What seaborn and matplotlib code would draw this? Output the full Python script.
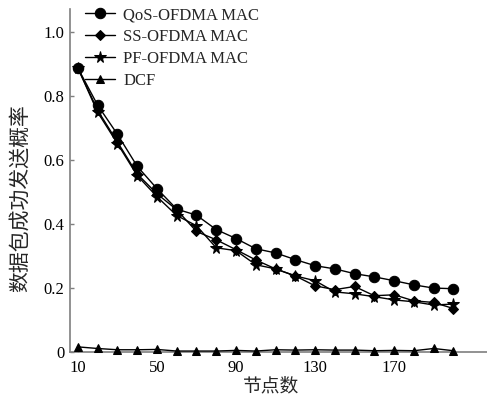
import matplotlib
matplotlib.use("Agg")
import matplotlib.pyplot as plt
import seaborn as sns

# ── Data ──────────────────────────────────────────────────────────────────────
nodes = [10, 20, 30, 40, 50, 60, 70, 80, 90, 100,
         110, 120, 130, 140, 150, 160, 170, 180, 190, 200]

qos_ofdma = [0.888, 0.772, 0.681, 0.581, 0.511, 0.447, 0.428, 0.383, 0.355, 0.323,
             0.310, 0.289, 0.270, 0.260, 0.245, 0.235, 0.223, 0.210, 0.200, 0.198]
ss_ofdma = [0.888, 0.756, 0.657, 0.557, 0.495, 0.445, 0.377, 0.351, 0.320, 0.288,
            0.260, 0.238, 0.207, 0.195, 0.205, 0.176, 0.179, 0.160, 0.155, 0.136]
pf_ofdma = [0.888, 0.750, 0.652, 0.552, 0.486, 0.427, 0.395, 0.326, 0.317, 0.273,
            0.260, 0.238, 0.223, 0.188, 0.182, 0.173, 0.163, 0.157, 0.147, 0.150]
dcf = [0.016, 0.011, 0.007, 0.007, 0.008, 0.003, 0.003, 0.003, 0.005, 0.003,
       0.007, 0.006, 0.007, 0.006, 0.006, 0.004, 0.005, 0.004, 0.011, 0.004]

x_ticks = [10, 50, 90, 130, 170]
y_ticks = [0, 0.2, 0.4, 0.6, 0.8, 1.0]
y_tick_labels = ["0", "0.2", "0.4", "0.6", "0.8", "1.0"]

# ── Style ─────────────────────────────────────────────────────────────────────
sns.set_theme(style="ticks")
plt.rcParams["font.family"] = ["Liberation Serif", "Noto Sans CJK SC"]

fig = plt.figure(figsize=(4.87, 4.05), dpi=100)
ax = fig.add_axes([70 / 487, 53 / 405, 417 / 487, 343 / 405])

common = dict(color="black", linewidth=1.0, ax=ax, clip_on=False, zorder=3,
              markeredgecolor="black", markerfacecolor="black")
sns.lineplot(x=nodes, y=qos_ofdma, marker="o", markersize=7.5,
             label="QoS-OFDMA MAC", **common)
sns.lineplot(x=nodes, y=ss_ofdma, marker="D", markersize=5.5,
             label="SS-OFDMA MAC", **common)
sns.lineplot(x=nodes, y=pf_ofdma, marker="*", markersize=8.5,
             label="PF-OFDMA MAC", **common)
sns.lineplot(x=nodes, y=dcf, marker="^", markersize=6,
             label="DCF", **common)

ax.set_xlim(6, 217)
ax.set_ylim(0, 1.073)
ax.set_xticks(x_ticks)
ax.set_yticks(y_ticks)
ax.set_yticklabels(y_tick_labels)

for side in ["top", "right"]:
    ax.spines[side].set_visible(False)
for side in ["left", "bottom"]:
    ax.spines[side].set_color("#7f7f7f")
    ax.spines[side].set_linewidth(1.2)

ax.tick_params(axis="both", direction="in", length=3, width=1,
               color="#7f7f7f", labelsize=12, labelcolor="black")
ax.tick_params(axis="x", pad=6)
ax.tick_params(axis="y", pad=4)

ax.set_xlabel("节点数", fontsize=13.5)
ax.set_ylabel("数据包成功发送概率", fontsize=15)
ax.xaxis.set_label_coords(0.482, -0.075)
ax.yaxis.set_label_coords(-0.095, 0.45)

leg = ax.legend(loc="upper left", bbox_to_anchor=(0.02, 1.025), frameon=False,
                fontsize=12, handlelength=1.8, handletextpad=0.5,
                labelspacing=0.35, borderaxespad=0)

fig.savefig("out.png", dpi=100)
